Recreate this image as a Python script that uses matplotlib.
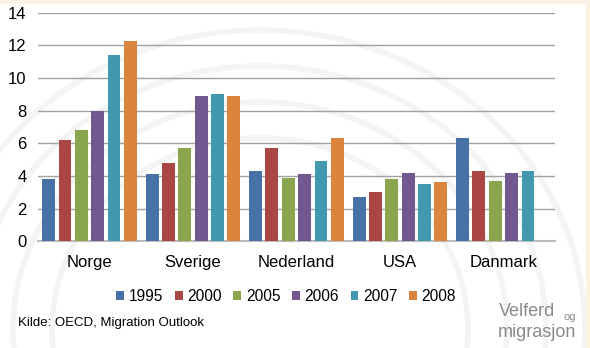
import matplotlib.pyplot as plt
import numpy as np
from matplotlib.patches import Rectangle, Arc

plt.rcParams['font.family'] = ['Liberation Sans', 'DejaVu Sans']

countries = ['Norge', 'Sverige', 'Nederland', 'USA', 'Danmark']
years = ['1995', '2000', '2005', '2006', '2007', '2008']
colors = ['#4672A8', '#AA4643', '#89A54E', '#71588F', '#4198AF', '#DB843D']

values = {
    '1995': [3.8, 4.1, 4.3, 2.7, 6.3],
    '2000': [6.2, 4.8, 5.7, 3.0, 4.3],
    '2005': [6.8, 5.7, 3.9, 3.8, 3.7],
    '2006': [8.0, 8.9, 4.1, 4.2, 4.2],
    '2007': [11.4, 9.0, 4.9, 3.5, 4.3],
    '2008': [12.3, 8.9, 6.3, 3.6, np.nan],
}

fig = plt.figure(figsize=(5.9, 3.48), dpi=100)
fig.patch.set_facecolor('white')

# faint background swirls + cream border
bg = fig.add_axes([0, 0, 1, 1], zorder=-10)
bg.set_xlim(0, 590)
bg.set_ylim(348, 0)
bg.axis('off')
for r in [160, 190, 220, 250]:
    bg.add_patch(Arc((260, 330), 2 * r * 1.3, 2 * r * 1.2, color='#f4f4f4', lw=4))
bg.add_patch(Rectangle((0, 0), 590, 4, color='#fdf1e3', lw=0))
bg.add_patch(Rectangle((586, 0), 4, 348, color='#fdf1e3', lw=0))

ax = fig.add_axes([0.064, 0.307, 0.877, 0.656])
ax.patch.set_alpha(0)
x = np.arange(len(countries))
step = 0.158
width = 0.125
for i, (yr, c) in enumerate(zip(years, colors)):
    off = -2.5 * step + i * step
    ax.bar(x + off, values[yr], width, color=c, label=yr, zorder=3)

ax.set_xlim(-0.5, len(countries) - 0.5)
ax.set_ylim(0, 14)
ax.set_yticks(range(0, 15, 2))
ax.set_xticks(x)
ax.set_xticklabels(countries, fontsize=12)
ax.tick_params(axis='y', labelsize=12, length=0, pad=8)
ax.tick_params(axis='x', length=0, pad=10)
ax.grid(axis='y', color='#a0a0a0', lw=1, zorder=0)
for s in ['top', 'right', 'left']:
    ax.spines[s].set_visible(False)
ax.spines['bottom'].set_color('#bbbbbb')
ax.spines['bottom'].set_linewidth(1.5)

leg = fig.legend(loc='center', bbox_to_anchor=(0.485, 0.148), ncol=6, frameon=False,
                 fontsize=11.2, handlelength=0.5, handleheight=0.5,
                 handletextpad=0.3, columnspacing=0.75)

fig.text(0.03, 0.072, 'Kilde: OECD, Migration Outlook', fontsize=9.5, va='center')
fig.text(0.845, 0.105, 'Velferd', fontsize=13, color='#8a8a8a', va='center')
fig.text(0.955, 0.09, 'og', fontsize=8, color='#8a8a8a', va='center')
fig.text(0.843, 0.045, 'migrasjon', fontsize=13, color='#8a8a8a', va='center')

fig.savefig('out.png', dpi=100)
